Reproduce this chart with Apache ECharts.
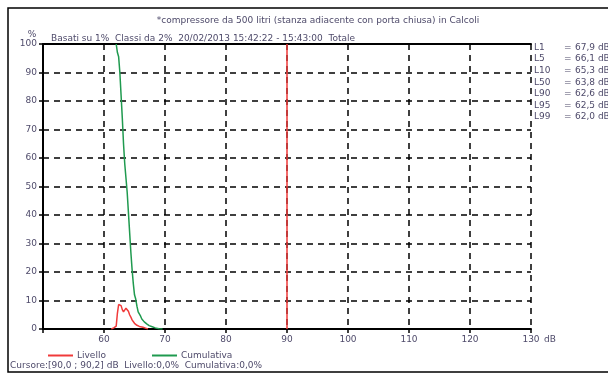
<!DOCTYPE html>
<html>
<head>
<meta charset="utf-8">
<script src="https://cdn.jsdelivr.net/npm/echarts@6/dist/echarts.min.js"></script>
<style>html,body{margin:0;padding:0;background:#fff}#c{width:608px;height:375px}</style>
</head>
<body>
<div id="c"></div>
<script>
var titleText = '*compressore da 500 litri (stanza adiacente con porta chiusa) in Calcoli';
var subtitleText = 'Basati su 1%  Classi da 2%  20/02/2013 15:42:22 - 15:43:00  Totale';
var footerText = 'Cursore:[90,0 ; 90,2] dB  Livello:0,0%  Cumulativa:0,0%';
var xTicks = [60, 70, 80, 90, 100, 110, 120, 130];
var yTicks = [0, 10, 20, 30, 40, 50, 60, 70, 80, 90, 100];
var cursorValue = 90;
var statLabels = ['L1', 'L5', 'L10', 'L50', 'L90', 'L95', 'L99'];
var statValues = ['67,9 dB', '66,1 dB', '65,3 dB', '63,8 dB', '62,6 dB', '62,5 dB', '62,0 dB'];
var livello = [[61.2,0],[61.6,0.4],[62.0,1.0],[62.2,5.6],[62.4,8.6],[62.6,8.8],[62.8,8.2],[63.0,6.8],[63.2,6.0],[63.4,6.5],[63.6,7.3],[63.8,7.2],[64.0,6.2],[64.2,5.0],[64.4,4.2],[64.6,3.2],[64.8,2.5],[65.0,2.0],[65.2,1.6],[65.4,1.3],[65.8,0.9],[66.4,0.6],[66.8,0.3],[67.2,0]];
var cumulativa = [[62.0,100],[62.2,97],[62.4,95.5],[62.6,90],[62.8,82],[63.0,74],[63.2,65],[63.4,58],[63.6,53],[63.8,48],[64.0,41],[64.2,34],[64.4,27],[64.6,21],[64.8,16],[65.0,12],[65.2,10.5],[65.4,8],[65.6,6],[65.8,5.5],[66.0,4.5],[66.2,3.5],[66.6,2.5],[67.0,1.8],[67.4,1.2],[67.9,0.8],[68.4,0.4],[69.0,0.1],[69.6,0]];

var txtColor = '#4e4a6a';
var font = '"DejaVu Sans", Verdana, sans-serif';
var chart = echarts.init(document.getElementById('c'));

var graphics = [{
  type: 'rect', shape: {x: 8, y: 8, width: 640, height: 364},
  style: {fill: 'none', stroke: '#000', lineWidth: 1.5}, silent: true
}, {
  type: 'text', left: 10, top: 361,
  style: {text: footerText, fill: txtColor, font: '9px ' + font}
}];
statLabels.forEach(function (l, i) {
  var y = 43 + i * 11.6;
  graphics.push({type: 'text', left: 534, top: y, style: {text: l, fill: txtColor, font: '9px ' + font}});
  graphics.push({type: 'text', left: 564, top: y, style: {text: '=', fill: txtColor, font: '9px ' + font}});
  graphics.push({type: 'text', left: 575, top: y, style: {text: statValues[i], fill: txtColor, font: '9px ' + font}});
});

chart.setOption({
  animation: false,
  backgroundColor: '#fff',
  textStyle: {fontFamily: font},
  title: [{
    text: titleText, left: 313, textAlign: 'center', top: 11,
    textStyle: {fontSize: 9, fontWeight: 'normal', color: txtColor, fontFamily: font}
  }, {
    text: subtitleText, left: 46, top: 29,
    textStyle: {fontSize: 9, fontWeight: 'normal', color: txtColor, fontFamily: font}
  }],
  legend: [{
    left: 43, top: 346, data: [{name: 'Livello', icon: 'rect'}],
    itemWidth: 25, itemHeight: 2, itemGap: 4,
    textStyle: {fontSize: 9, color: txtColor, padding: [0, 0, 0, -1]}
  }, {
    left: 147, top: 346, data: [{name: 'Cumulativa', icon: 'rect'}],
    itemWidth: 25, itemHeight: 2,
    textStyle: {fontSize: 9, color: txtColor, padding: [0, 0, 0, -1]}
  }],
  grid: {left: 43, top: 44, right: 77, bottom: 46, containLabel: false},
  xAxis: [{
    type: 'value', min: 50, max: 130, interval: 10,
    name: 'dB', nameLocation: 'end', nameGap: 13, nameMoveOverlap: false,
    nameTextStyle: {fontSize: 9, color: txtColor, verticalAlign: 'top', padding: [6, 0, 0, 0]},
    axisLine: {lineStyle: {color: '#000', width: 2}},
    axisTick: {show: true, length: 4, lineStyle: {color: '#000', width: 1.5}},
    axisLabel: {fontSize: 9, color: txtColor, margin: 6, formatter: function (v) { return xTicks.indexOf(v) >= 0 ? String(v) : ''; }},
    splitLine: {show: true, lineStyle: {color: '#000', width: 1.5, type: [6, 5]}}
  }, {
    type: 'value', min: 50, max: 130, position: 'top',
    axisLine: {show: true, lineStyle: {color: '#000', width: 2}},
    axisTick: {show: false}, axisLabel: {show: false}, splitLine: {show: false}
  }],
  yAxis: {
    type: 'value', min: 0, max: 100, interval: 10,
    name: '%', nameLocation: 'end', nameGap: 5,
    nameTextStyle: {fontSize: 9, color: txtColor, padding: [0, 22, 0, 0]},
    axisLine: {show: true, lineStyle: {color: '#000', width: 2}},
    axisTick: {show: true, length: 4, lineStyle: {color: '#000', width: 1.5}},
    axisLabel: {fontSize: 9, color: txtColor, margin: 6, formatter: function (v) { return yTicks.indexOf(v) >= 0 ? String(v) : ''; }},
    splitLine: {show: true, lineStyle: {color: '#000', width: 1.5, type: [6, 5]}}
  },
  series: [{
    name: 'Livello', type: 'line', data: livello, showSymbol: false, symbol: 'none',
    itemStyle: {color: '#f03a3a'}, lineStyle: {color: '#f03a3a', width: 1.5},
    markLine: {
      silent: true, symbol: 'none', label: {show: false},
      lineStyle: {color: '#f03a3a', width: 1.5, type: 'solid'},
      data: [{xAxis: cursorValue}]
    }
  }, {
    name: 'Cumulativa', type: 'line', data: cumulativa, showSymbol: false, symbol: 'none',
    itemStyle: {color: '#1f9a4f'}, lineStyle: {color: '#1f9a4f', width: 1.5}
  }],
  graphic: graphics
});
</script>
</body>
</html>
